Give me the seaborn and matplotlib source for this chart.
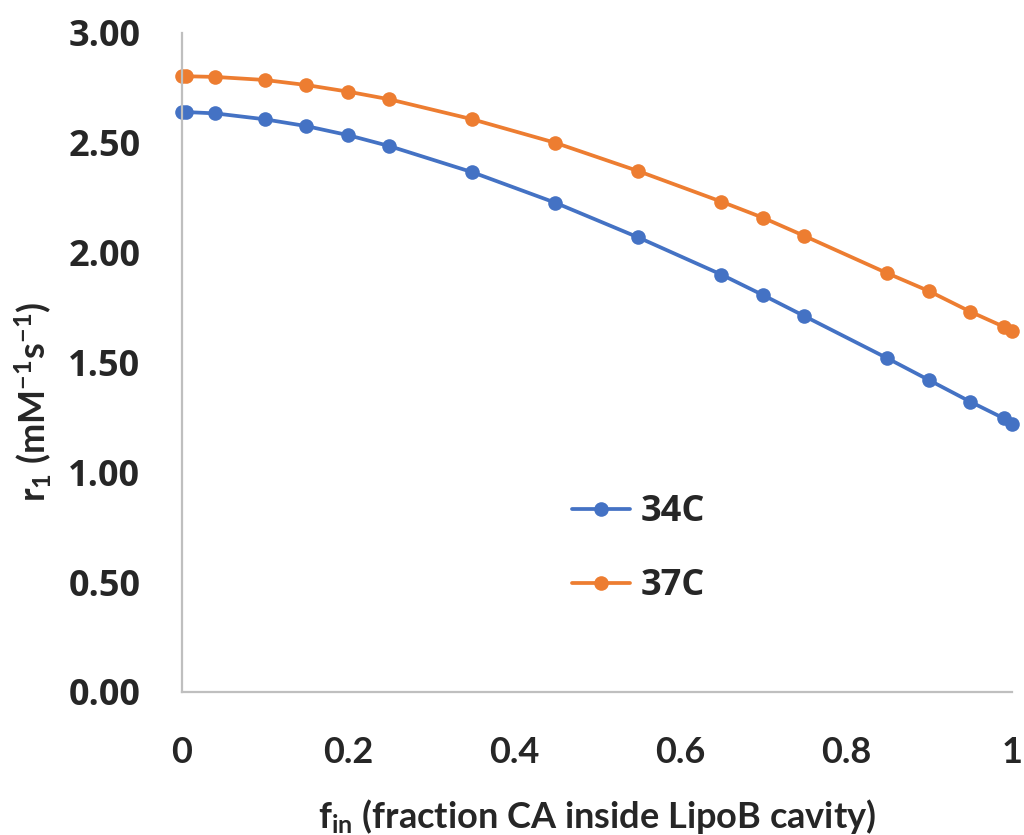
import matplotlib
matplotlib.use("Agg")
import matplotlib.pyplot as plt
import seaborn as sns
import pandas as pd

# Relaxivity r1 versus fraction of contrast agent inside the LipoB cavity
f_in = [0, 0.005, 0.04, 0.1, 0.15, 0.2, 0.25, 0.35, 0.45, 0.55,
        0.65, 0.7, 0.75, 0.85, 0.9, 0.95, 0.99, 1.0]
r1_34C = [2.641, 2.640, 2.634, 2.607, 2.576, 2.535, 2.485, 2.366, 2.227, 2.069,
          1.900, 1.807, 1.711, 1.519, 1.420, 1.321, 1.246, 1.218]
r1_37C = [2.804, 2.803, 2.800, 2.786, 2.763, 2.733, 2.698, 2.607, 2.500, 2.371,
          2.232, 2.159, 2.076, 1.906, 1.825, 1.731, 1.663, 1.645]
series_names = ["34C", "37C"]
x_ticks = [0, 0.2, 0.4, 0.6, 0.8, 1.0]
x_tick_labels = ["0", "0.2", "0.4", "0.6", "0.8", "1"]
y_ticks = [0.0, 0.5, 1.0, 1.5, 2.0, 2.5, 3.0]

df = pd.concat([
    pd.DataFrame({"f_in": f_in, "r1": r1_34C, "T": series_names[0]}),
    pd.DataFrame({"f_in": f_in, "r1": r1_37C, "T": series_names[1]}),
], ignore_index=True)

sns.set_style("white")
plt.rcParams["font.family"] = ["Lato", "DejaVu Sans"]
plt.rcParams["mathtext.fontset"] = "custom"
plt.rcParams["mathtext.rm"] = "Lato:bold"
plt.rcParams["mathtext.bf"] = "Lato:bold"
plt.rcParams["mathtext.it"] = "Lato:bold"
plt.rcParams["mathtext.default"] = "bf"

palette = {"34C": "#4472C4", "37C": "#ED7D31"}

fig = plt.figure(figsize=(10.24, 8.35), dpi=100)
ax = fig.add_axes([0.1777, 0.1713, 0.8105, 0.7892])

sns.lineplot(data=df, x="f_in", y="r1", hue="T", palette=palette,
             marker="o", markersize=10.5, markeredgewidth=0, linewidth=2.7,
             ax=ax, clip_on=False)

ax.set_xlim(0, 1)
ax.set_ylim(0, 3)
ax.set_xticks(x_ticks)
ax.set_xticklabels(x_tick_labels)
ax.set_yticks(y_ticks)
ax.set_yticklabels([f"{v:.2f}" for v in y_ticks])

for lab in ax.get_xticklabels():
    lab.set_fontfamily(["Lato", "DejaVu Sans"])
    lab.set_fontweight("bold")
    lab.set_fontsize(26)
for lab in ax.get_yticklabels():
    lab.set_fontfamily(["Open Sans", "DejaVu Sans"])
    lab.set_fontweight("bold")
    lab.set_fontsize(26)

ax.tick_params(axis="both", length=0)
ax.tick_params(axis="x", pad=32)
ax.tick_params(axis="y", pad=30)

for side in ["top", "right"]:
    ax.spines[side].set_visible(False)
for side in ["left", "bottom"]:
    ax.spines[side].set_color("#BFBFBF")
    ax.spines[side].set_linewidth(1.6)

ax.set_xlabel(r"f$_{in}$ (fraction CA inside LipoB cavity)",
              fontsize=26, fontweight="bold")
ax.set_ylabel(r"r$_1$ (mM$^{-1}$s$^{-1}$)", fontsize=26, fontweight="bold")
ax.xaxis.set_label_coords(0.5, -0.16)
ax.yaxis.set_label_coords(-0.154, 0.44)
ax.xaxis.label.set_va("top")

leg = ax.legend(loc="upper left", bbox_to_anchor=(0.47, 0.30),
                frameon=False, borderpad=0, borderaxespad=0,
                handlelength=1.6, handletextpad=0.3, labelspacing=1.05,
                prop={"family": ["Open Sans", "DejaVu Sans"],
                      "weight": "bold", "size": 26})
for h in leg.legend_handles:
    h.set_markersize(10.5)
    h.set_linewidth(2.7)

fig.savefig("out.png", dpi=100)
